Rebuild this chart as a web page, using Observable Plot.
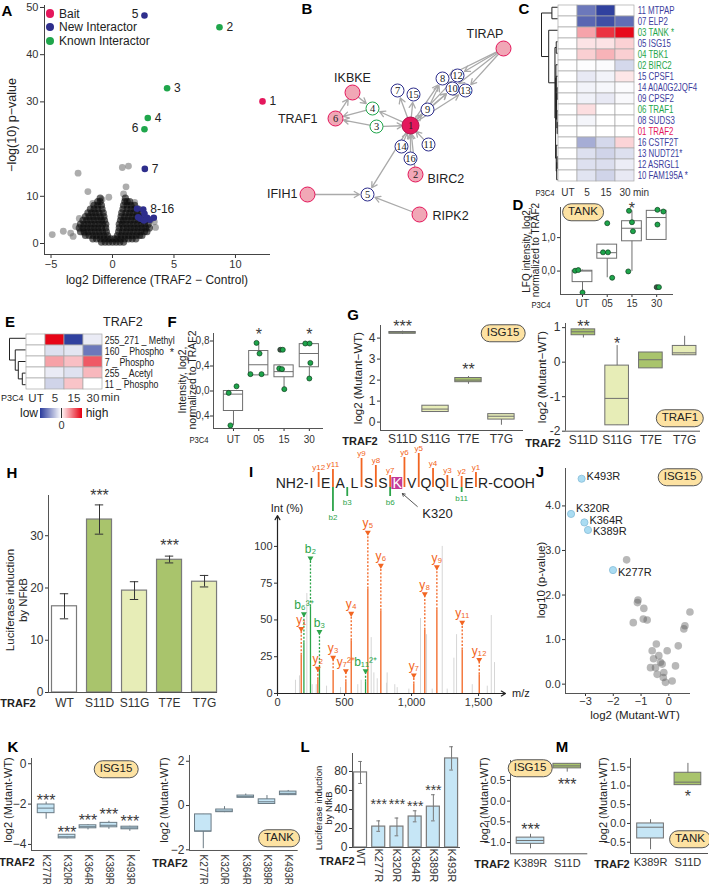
<!DOCTYPE html>
<html><head><meta charset="utf-8">
<script src="https://cdn.jsdelivr.net/npm/d3@7"></script>
<script src="https://cdn.jsdelivr.net/npm/@observablehq/plot@0.6"></script>
<style>
body{margin:0;background:#fff;}
#root{position:relative;width:709px;height:884px;overflow:hidden;background:#fff;font-family:'Liberation Sans',Arial,sans-serif;}
</style></head><body><div id="root"></div>
<script>
// ===================== DATA =====================
// --- A: volcano ---
const volcanoBgRows = [
  [0.3, [-0.9,-0.6,-0.3,0,0.3,0.6,0.9]],
  [1.0, [-1.6,-1.3,-1.0,-0.7,-0.4,-0.15,0.15,0.4,0.7,1.0,1.3,1.6,1.9]],
  [1.7, [-2.2,-1.9,-1.6,-1.3,-1.0,-0.7,-0.4,0.4,0.7,1.0,1.3,1.6,1.9,2.2,2.4]],
  [2.5, [-2.6,-2.3,-2.0,-1.7,-1.4,-1.1,-0.8,-0.5,0.5,0.8,1.1,1.4,1.7,2.0,2.3,2.6,2.8]],
  [3.3, [-2.7,-2.4,-2.1,-1.8,-1.5,-1.2,-0.9,-0.55,0.55,0.9,1.2,1.5,1.8,2.1,2.4,2.7,3.0]],
  [4.1, [-2.6,-2.3,-2.0,-1.7,-1.4,-1.1,-0.8,-0.55,0.55,0.8,1.1,1.4,1.7,2.0,2.3,2.6,2.9]],
  [4.9, [-2.4,-2.1,-1.8,-1.5,-1.2,-0.9,-0.65,0.65,0.9,1.2,1.5,1.8,2.1,2.4,2.7]],
  [5.7, [-2.2,-1.9,-1.6,-1.3,-1.0,-0.7,0.7,1.0,1.3,1.6,1.9,2.2,2.5]],
  [6.5, [-2.0,-1.7,-1.4,-1.1,-0.75,0.75,1.1,1.4,1.7,2.0,2.3]],
  [7.3, [-1.8,-1.5,-1.2,-0.85,0.85,1.2,1.5,1.8,2.1]],
  [8.1, [-1.5,-1.2,-0.9,0.9,1.2,1.5,1.8]],
  [8.9, [-1.2,-1.0,1.0,1.2,1.4]],
  [9.6, [-1.0,1.05]]
];
const volcanoOutliers = [[-4.9,1.9],[-4.0,2.6],[-3.2,1.5],[-2.3,2.2],[-2.7,5.3],[-2.0,11.0],[-2.8,14.9],[0.8,16.1],[1.3,16.4],[1.1,12.0],[0.9,10.5],[-0.3,9.8],[-0.85,9.3],[3.1,5.0],[3.4,4.6],[-3.0,3.6],[-3.4,2.2],[3.5,3.4],[-1.6,8.5],[1.8,8.7]];
const hitLabel = ["1","2","3","4","5","6","7","8-16","","","","","","","",""];
const hitX = [12.2,8.7,4.44,2.87,2.6,2.6,2.63,2.5,2.0,2.09,2.28,2.6,2.82,3.03,3.36,2.56];
const hitY = [30.1,45.8,32.9,26.6,48.3,24.2,15.8,7.2,7.35,5.57,5.23,6.29,5.44,5.02,5.44,4.87];
const hitKind = ["bait","known","known","known","new","known","new","new","new","new","new","new","new","new","new","new"];
const leftLabels = ["5","6"];

// --- B: network ---
const netIds  = ["1","2","3","4","5","6","7","8","9","10","11","12","13","14","15","16","TIRAP","IKBKE","IFIH1","RIPK2"];
const netX    = [410,415,376,372,367,335,397,442,427,452,428,457,465,401,413,410,503,352,307,419];
const netY    = [125,174,126,108,194,118,90,78,109,88,144,75,90,146,94,158,48,92,194,214];
const netKind = ["bait","hub","known","known","new","hub","new","new","new","new","new","new","new","new","new","new","hub","hub","hub","hub"];
const netEdges = [["1","7"],["1","15"],["1","9"],["1","8"],["1","12"],["1","10"],["1","13"],["9","8"],["9","10"],
  ["TIRAP","8"],["TIRAP","12"],["TIRAP","10"],["TIRAP","13"],["14","1"],["16","1"],["11","1"],["2","1"],
  ["3","1"],["1","4"],["3","6"],["4","6"],["IKBKE","4"],["6","IKBKE"],["1","5"],["IFIH1","5"],["RIPK2","5"]];
const netNames = {"TIRAP":"TIRAP","IKBKE":"IKBKE","6":"TRAF1","2":"BIRC2","IFIH1":"IFIH1","RIPK2":"RIPK2"};

// --- C: heatmap ---
const cProteins = ["11 MTPAP","07 ELP2","03 TANK *","05 ISG15","04 TBK1","02 BIRC2","15 CPSF1","14 A0A0G2JQF4","09 CPSF2","06 TRAF1","08 SUDS3","01 TRAF2","16 CSTF2T","13 NUDT21*","12 ASRGL1","10 FAM195A *"];
const cGroup = ["new","new","known","new","known","known","new","new","new","known","new","bait","new","new","new","new"];
const cTimes = ["UT","5","15","30"];
const cValues = [
  [0,-0.69,-0.97,0],[0,-0.78,-0.9,-0.74],[0,0.36,0.8,0.96],[0,0.11,0.11,0.18],
  [0,0.19,0.3,0.19],[0,-0.01,-0.02,-0.2],[0,-0.11,-0.06,0.1],[0,-0.06,-0.04,-0.02],
  [0,-0.07,-0.11,-0.03],[0,0.13,0,0],[0,-0.05,0,0],[0,0,0,0],
  [0,-0.42,-0.2,0.17],[0,-0.16,-0.22,-0.16],[0,-0.16,-0.17,-0.09],[0,-0.14,-0.22,-0.11]];
const cMerges = [[-1,-2,0.35],[-14,-15,0.03],[2,-16,0.05],[-13,3,0.08],[-8,-9,0.03],[-11,-12,0.02],[-10,6,0.04],[5,7,0.06],[-7,8,0.08],[-6,9,0.1],[10,4,0.12],[-4,-5,0.08],[12,11,0.16],[-3,13,0.55],[1,14,1.0]];

// --- D: TANK LFQ ---
const dCats = ["UT","05","15","30"];
const dStats = [[-0.64,-0.33,0.0,0.01,0.03],[-0.2,0.37,0.55,0.79,0.79],[-0.01,0.89,1.28,1.49,1.8],[0.93,0.93,1.6,1.8,1.83]];
const dPoints = [[0,0.01,-0.3,0],[0,0.03,-0.17,0],[0,-0.64,0,0],[1,1.43,0,0],[1,0.56,-0.17,0],[1,0.56,0.03,0],[1,-0.2,0.2,0],
  [2,1.8,-0.12,0],[2,1.46,0,0],[2,1.19,0.04,0],[2,-0.01,-0.15,0],[3,1.83,0.03,0],[3,1.78,0.27,0],[3,1.39,0.03,0],[3,-0.48,0,1],[3,-0.48,0.09,0]];
const dStars = [[2,1.99,"*"]];

// --- E: TRAF2 PTM heatmap ---
const eRows = ["255_271 _ Methyl","160 _ Phospho","7 _ Phospho","255 _ Acetyl","11 _ Phospho"];
const eValues = [[0,0.98,-0.97,-0.1],[0,-0.16,-0.13,-0.69],[0,0.37,0.25,0.65],[0,-0.1,-0.15,0.28],[0,-0.22,0.23,0]];
const eMerges = [[-4,-5,0.2],[-3,1,0.45],[-2,2,0.64],[-1,3,1.0]];

// --- F: TRAF2 phospho intensity ---
const fStats = [[-0.55,-0.32,-0.05,0.0,0.0],[0.25,0.25,0.42,0.64,0.77],[0.03,0.22,0.31,0.41,0.41],[0.2,0.38,0.6,0.75,0.75]];
const fPoints = [[0,0.075,0.12,0],[0,-0.03,-0.19,0],[0,-0.55,-0.12,0],[1,0.77,-0.09,0],[1,0.6,0.03,0],[1,0.27,-0.33,0],[1,0.27,0.11,0],
  [2,0.66,-0.15,1],[2,0.66,-0.05,0],[2,0.36,-0.19,0],[2,0.35,-0.08,0],[2,0.03,0.01,0],[3,0.76,-0.16,0],[3,0.76,0.01,0],[3,0.45,0.04,0],[3,0.2,0,0]];
const fStars = [[1,0.97,"*"],[3,0.97,"*"]];

// --- G ---
const gCats = ["S11D","S11G","T7E","T7G"];
const gIsgStats = [[4.17,4.21,4.25,4.29,4.33],[0.48,0.48,0.62,0.78,0.78],[1.8,1.9,2.0,2.1,2.17],[-0.15,0.12,0.28,0.38,0.38]];
const gIsgStars = [[0,4.75,"***"],[2,2.7,"**"]];
const gTrafStats = [[0.7,0.78,0.88,0.95,0.97],[-1.83,-1.83,-1.05,-0.1,0.48],[-0.18,-0.18,0.07,0.28,0.28],[0.2,0.2,0.27,0.47,0.75]];
const gTrafStars = [[0,1.15,"**"],[1,0.65,"*"]];

// --- H ---
const hCats = ["WT","S11D","S11G","T7E","T7G"];
const hMean = [16.5,33.1,19.5,25.4,21.2];
const hLo = [14.1,30.3,17.8,24.8,20.2];
const hHi = [18.9,35.9,21.2,26.1,22.4];
const hStars = [[1,38.4,"***"],[3,28.9,"***"]];

// --- I: spectrum ---
const residues = ["I","E","A","L","S","S","K","V","Q","Q","L","E","R"];
const seqPrefix = "NH2-", seqSuffix = "-COOH";
const seqHighlight = 6, seqHighlightLabel = "K320";
const yIonSite = [1,2,4,5,6,7,8,9,10,11,12];
const yIonName = ["y12","y11","y9","y8","y7","y6","y5","y4","y3","y2","y1"];
const yIonLen  = [6,9,20,13,3,21,25,10,3,2,6];
const bIonSite = [2,3,6,11];
const bIonName = ["b2","b3","b6","b11"];
const bIonLen  = [22,7,7,3];
const ionLabel = ["y₁","b₆³⁺","b₂","y₂","b₃","y₃","y₇²⁺","y₄","b₁₁²⁺","y₅","y₆","y₇","y₈","y₉","y₁₁","y₁₂"];
const ionType  = ["y","b","b","y","b","y","y","y","b","y","y","y","y","y","y","y"];
const ionMz    = [177,197,246,301,313,415,510,550,657,674,771,1017,1099,1189,1378,1505];
const ionInt   = [26,34.5,59,9.3,17.7,14.3,8,35.8,8,71,56,6.4,43,57,29.5,12.7];
const ionTop   = [44,54,92,17,42,24.5,15.4,54.4,15.4,109.5,87,12.5,67.6,86,48.3,23];
const grayMz  = [134,164,219,259,289,366,470,599,624,699,719,744,813,818,875,893,980,1067,1112,1154,1229,1266,1316,1336,1453,1565,1595,1619];
const grayInt = [9,12,68,6,6,5,4,6,9,38,14,10,7,14,6,4,3,51,40,3,100,3,24,40,6,5,53,21];

// --- J ---
const jHitLabel = ["K493R","K320R","K364R","K389R","K277R"];
const jHitX = [-3.14,-3.52,-3.04,-2.91,-2.01];
const jHitY = [4.61,3.82,3.63,3.46,2.56];
const jLabelDy = [-2,-5,-2,1,2];
const jOtherX = [-1.52,-1.11,-1.13,-0.9,-1.28,-0.92,-0.78,0.76,0.58,0.54,-0.6,-0.36,-0.3,-0.48,-0.18,-0.12,0.12,0.24,0.34,-0.66,-0.42,-0.06,-0.24,-0.55,-0.45,-0.2];
const jOtherY = [2.79,1.89,1.83,1.7,1.38,1.46,1.44,1.62,1.31,1.24,0.75,0.64,0.49,0.37,0.26,0.04,0.07,0.41,0.86,0.37,0.22,0.75,0.45,0.57,0.9,0.15];

// --- K ---
const kCats = ["K277R","K320R","K364R","K389R","K493R"];
const kIsgStats = [[-2.75,-2.45,-2.2,-2.02,-1.9],[-3.72,-3.7,-3.62,-3.52,-3.5],[-3.28,-3.2,-3.12,-3.05,-3.02],[-3.25,-3.15,-3.05,-2.93,-2.85],[-3.35,-3.25,-3.18,-3.12,-3.1]];
const kIsgStars = [[0,-1.62,"***"],[1,-3.21,"***"],[2,-2.61,"***"],[3,-2.32,"***"],[4,-2.66,"***"]];
const kTankStats = [[-1.95,-1.18,-1.15,-0.4,-0.4],[-0.32,-0.3,-0.25,-0.18,-0.05],[0.35,0.35,0.4,0.45,0.52],[0.05,0.07,0.17,0.28,0.45],[0.45,0.47,0.55,0.63,0.68]];

// --- L ---
const lCats = ["WT","K277R","K320R","K364R","K389R","K493R"];
const lMean = [79,22,22,32.6,43,93.7];
const lLo = [67.4,17,12.3,27,28,81.5];
const lHi = [90.5,28,31,38.6,55.5,106];
const lStars = [[1,49.5,"***"],[2,49.5,"***"],[3,48,"***"],[4,64.5,"***"]];

// --- M ---
const mCats = ["K389R","S11D"];
const mIsgStats = [[-1.15,-1.03,-0.95,-0.88,-0.8],[0.7,0.79,0.85,0.9,0.9]];
const mIsgStars = [[0,-0.58,"***"],[1,0.5,"***"]];
const mTankStats = [[-0.7,-0.4,-0.1,0.0,0.1],[1.02,1.02,1.1,1.35,1.6]];
const mTankStars = [[1,0.84,"*"]];

// ===================== HELPERS =====================
const root = document.getElementById("root");
const FONT = "'Liberation Sans', Arial, Helvetica, sans-serif";
const C_BAIT = "#e4175c", C_NEW = "#2e2e8c", C_KNOWN = "#1fa64b", C_NEWTXT = "#3d3d9e";
const G_DARK = "#a9c46c", G_LIGHT = "#e7edb7", BLUE_BOX = "#c6e6f6";
const HEAT_BLUE = "#2a3b9c", HEAT_RED = "#e60012";
const ORANGE = "#f26522", GREEN = "#2ca44a";
const minus = s => String(s).replace("-", "\u2212");
const fmtInt = d => minus(d);
const fmtComma1 = d => minus(d3.format(".1f")(d).replace(".", ","));
const fmtDot1 = d => minus(d3.format(".1f")(d));
const SVGNS = "http://www.w3.org/2000/svg";

function plot(o, left, top, fs = 11) {
  const svg = Plot.plot({...o, style: {fontFamily: FONT, fontSize: fs + "px", color: "#333", background: "transparent", overflow: "visible", maxWidth: "none"}});
  svg.style.position = "absolute"; svg.style.left = left + "px"; svg.style.top = top + "px";
  root.appendChild(svg);
  return svg;
}
function txt(s, x, y, o = {}) {
  const d = document.createElement("div");
  d.textContent = s;
  const a = o.anchor || "middle";
  const tx = a === "start" ? "0%" : a === "end" ? "-100%" : "-50%";
  Object.assign(d.style, {position: "absolute", left: x + "px", top: y + "px", whiteSpace: "nowrap", lineHeight: "1",
    fontFamily: FONT, fontSize: (o.size || 11) + "px", color: o.color || "#222", fontWeight: o.bold ? "bold" : "normal",
    transform: `translate(${tx},-50%)` + (o.rotate ? ` rotate(${o.rotate}deg)` : "") + (o.sx ? ` scaleX(${o.sx})` : "")});
  root.appendChild(d);
  return d;
}
function badge(s, x, y) {
  const d = txt(s, x, y, {size: 11.5, color: "#222"});
  Object.assign(d.style, {background: "#fde2a2", border: "1px solid #555", borderRadius: "9px", padding: "2px 5px"});
}
function letter(s, x, y) { txt(s, x, y, {size: 15, bold: true, color: "#000"}); }
function safe(fn) { try { fn(); } catch (e) { console.error(e); } }
// horizontally condense the text marks of a plot around x0 (the labels use a narrow face in the original)
function condense(svg, x0, k) {
  svg.querySelectorAll('g[aria-label="text"]').forEach(g => {
    const w = document.createElementNS(SVGNS, "g");
    w.setAttribute("transform", `translate(${x0},0) scale(${k},1) translate(${-x0},0)`);
    g.parentNode.insertBefore(w, g); w.appendChild(g);
  });
}
function xTickFont(svg, size) {
  svg.querySelectorAll('g[aria-label="x-axis tick label"]').forEach(g => { g.style.fontSize = size + "px"; g.setAttribute("font-size", size); });
}

function dendroSegments(merges) {
  const nodes = [], segs = [];
  const get = k => k < 0 ? {y: -k, h: 0} : nodes[k - 1];
  for (const [a, b, h] of merges) {
    const A = get(a), B = get(b);
    segs.push({x1: A.h, y1: A.y, x2: h, y2: A.y});
    segs.push({x1: B.h, y1: B.y, x2: h, y2: B.y});
    segs.push({x1: h, y1: A.y, x2: h, y2: B.y});
    nodes.push({y: (A.y + B.y) / 2, h});
  }
  return segs;
}

function boxChart(c) {
  const [fx0, fy0, fx1, fy1] = c.frame;
  const [ml, mt, mr, mb] = c.margins;
  const hw = c.hw, st = c.stroke || "#6f6f6f";
  const boxes = c.stats.map((s, i) => ({i, lo: s[0], q1: s[1], med: s[2], q3: s[3], hi: s[4], fill: c.fills[i]}));
  const marks = [
    Plot.ruleX(boxes, {x: "i", y1: "lo", y2: "hi", stroke: st}),
    Plot.rectY(boxes, {x1: d => d.i - hw, x2: d => d.i + hw, y1: "q1", y2: "q3", fill: "fill", stroke: st}),
    Plot.ruleY(boxes, {x1: d => d.i - hw, x2: d => d.i + hw, y: "med", stroke: st})
  ];
  if (c.points) {
    const pts = c.points.map(p => ({x: p[0] + p[2], v: p[1], fill: p[3] ? "#4a4a4a" : "#1ea54b"}));
    marks.push(Plot.dot(pts, {x: "x", y: "v", r: 2.5, fill: "fill", stroke: "#0d3d1d", strokeWidth: 0.7}));
  }
  if (c.stars) {
    const s = c.stars.map(t => ({i: t[0], v: t[1], s: t[2]}));
    marks.push(Plot.text(s, {x: "i", y: "v", text: "s", fontSize: c.starSize || 16, fill: "#3a3a3a", dy: 4.5}));
  }
  marks.push(Plot.ruleX([c.xDomain[0]], {stroke: "#555"}), Plot.ruleY([c.yDomain[0]], {stroke: "#555"}));
  const svg = plot({
    width: fx1 - fx0 + ml + mr, height: fy1 - fy0 + mt + mb,
    marginLeft: ml, marginTop: mt, marginRight: mr, marginBottom: mb,
    x: {domain: c.xDomain, ticks: c.cats.map((_, i) => i), tickFormat: i => c.cats[i], tickSize: c.xTickSize || 0,
        tickPadding: c.xTickPadding ?? 4, tickRotate: c.rotate || 0, label: null},
    y: {domain: c.yDomain, ticks: c.yTicks, tickFormat: c.yFmt, tickSize: 3, tickPadding: c.yTickPadding ?? 2, label: null},
    color: {type: "identity"},
    marks
  }, fx0 - ml, fy0 - mt, c.fontSize || 11);
  if (c.xFont) xTickFont(svg, c.xFont);
  return svg;
}

function barChart(c) {
  const [fx0, fy0, fx1, fy1] = c.frame;
  const [ml, mt, mr, mb] = c.margins;
  const hw = c.hw, cap = c.cap;
  const bars = c.cats.map((_, i) => ({i, v: c.mean[i], lo: c.lo[i], hi: c.hi[i], fill: c.fills[i]}));
  const stars = c.stars.map(t => ({i: t[0], v: t[1], s: t[2]}));
  const svg = plot({
    width: fx1 - fx0 + ml + mr, height: fy1 - fy0 + mt + mb,
    marginLeft: ml, marginTop: mt, marginRight: mr, marginBottom: mb,
    x: {domain: c.xDomain, ticks: c.cats.map((_, i) => i), tickFormat: i => c.cats[i], tickSize: 0,
        tickPadding: c.xTickPadding ?? 5, tickRotate: c.rotate || 0, label: null},
    y: {domain: c.yDomain, ticks: c.yTicks, tickSize: 3, tickPadding: 2, label: null},
    color: {type: "identity"},
    marks: [
      Plot.rectY(bars, {x1: d => d.i - hw, x2: d => d.i + hw, y1: 0, y2: "v", fill: "fill", stroke: "#7a7a7a", strokeWidth: 1.2}),
      Plot.ruleX(bars, {x: "i", y1: "lo", y2: "hi", stroke: c.errColor}),
      Plot.ruleY(bars, {x1: d => d.i - cap, x2: d => d.i + cap, y: "lo", stroke: c.errColor}),
      Plot.ruleY(bars, {x1: d => d.i - cap, x2: d => d.i + cap, y: "hi", stroke: c.errColor}),
      Plot.text(stars, {x: "i", y: "v", text: "s", fontSize: c.starSize || 16, fill: "#3a3a3a", dy: 4.5}),
      Plot.ruleX([c.xDomain[0]], {stroke: "#555"}),
      Plot.ruleY([0], {stroke: "#555"})
    ]
  }, fx0 - ml, fy0 - mt, c.fontSize || 11);
  if (c.xFont) xTickFont(svg, c.xFont);
  return svg;
}

const heatColor = {type: "linear", domain: [-1, 0, 1], range: [HEAT_BLUE, "#ffffff", HEAT_RED]};

// ===================== PANEL A =====================
safe(() => {
  const bg = [];
  for (const [y, xs] of volcanoBgRows) for (const x of xs) bg.push({x, y});
  const out = volcanoOutliers.map(([x, y]) => ({x, y}));
  const hits = hitX.map((x, i) => ({x, y: hitY[i], label: hitLabel[i], kind: hitKind[i]}));
  const kindColor = {bait: C_BAIT, new: C_NEW, known: C_KNOWN};
  const lab = hits.filter(h => h.label);
  plot({
    width: 278, height: 290, marginLeft: 44, marginTop: 5, marginRight: 8, marginBottom: 36,
    x: {domain: [-5.53, 12.85], ticks: [-5, 0, 5, 10], tickFormat: fmtInt, tickSize: 4, tickPadding: 2, label: null},
    y: {domain: [-2.33, 50.42], ticks: [0, 10, 20, 30, 40, 50], tickSize: 4, tickPadding: 2, label: null},
    color: {type: "identity"},
    marks: [
      Plot.dot(out, {x: "x", y: "y", r: 3.4, fill: "#6a6a6a", fillOpacity: 0.55}),
      Plot.dot(bg, {x: "x", y: "y", r: 3.6, fill: "#0d0d0d", fillOpacity: 0.62}),
      Plot.dot(hits, {x: "x", y: "y", r: 3.3, fill: d => kindColor[d.kind]}),
      Plot.text(lab.filter(d => !leftLabels.includes(d.label)), {x: "x", y: "y", text: "label", textAnchor: "start", dx: 7, fontSize: 12, fill: "#222"}),
      Plot.text(lab.filter(d => leftLabels.includes(d.label)), {x: "x", y: "y", text: "label", textAnchor: "end", dx: -6, dy: -1, fontSize: 12, fill: "#222"}),
      Plot.ruleX([-5.53], {stroke: "#444"}),
      Plot.ruleY([-2.33], {stroke: "#444"})
    ]
  }, 0, 0, 11);
  txt("\u2212log(10) p\u2212value", 12, 125, {size: 12.5, rotate: -90});
  txt("log2 Difference (TRAF2 \u2212 Control)", 157, 280, {size: 12});
  const legItems = [["Bait", C_BAIT], ["New Interactor", C_NEW], ["Known Interactor", C_KNOWN]];
  legItems.forEach(([t, col], i) => {
    const y = 13.5 + i * 13.7;
    const d = document.createElement("div");
    Object.assign(d.style, {position: "absolute", left: "45.7px", top: (y - 4.3) + "px", width: "8.6px", height: "8.6px", borderRadius: "50%", background: col});
    root.appendChild(d);
    txt(t, 59, y, {anchor: "start", size: 12});
  });
  letter("A", 7, 10);
});

// ===================== PANEL B =====================
safe(() => {
  const nodes = netIds.map((id, i) => ({id, x: netX[i], y: netY[i], kind: netKind[i]}));
  const byId = Object.fromEntries(nodes.map(n => [n.id, n]));
  const edges = netEdges.map(([a, b]) => ({x1: byId[a].x, y1: byId[a].y, x2: byId[b].x, y2: byId[b].y}));
  const numbered = nodes.filter(n => /^\d+$/.test(n.id));
  const labelOffsets = {"TIRAP": [-37, -15, "start"], "IKBKE": [0, -15, "middle"], "6": [-18, 0, "end"], "2": [12, 4, "start"], "IFIH1": [-10, -1, "end"], "RIPK2": [13, 1, "start"]};
  const labels = Object.keys(netNames).map(id => ({x: byId[id].x, y: byId[id].y, t: netNames[id], dx: labelOffsets[id][0], dy: labelOffsets[id][1], a: labelOffsets[id][2]}));
  const labelMarks = ["start", "middle", "end"].map(a => {
    const L = labels.filter(l => l.a === a);
    return Plot.text(L, {x: d => d.x + d.dx, y: d => d.y + d.dy, text: "t", textAnchor: a, fontSize: 12.5, fill: "#222"});
  });
  plot({
    width: 265, height: 215, marginLeft: 0, marginTop: 0, marginRight: 0, marginBottom: 0,
    x: {domain: [255, 520], axis: null},
    y: {domain: [15, 230], reverse: true, axis: null},
    marks: [
      Plot.arrow(edges, {x1: "x1", y1: "y1", x2: "x2", y2: "y2", stroke: "#aaaaaa", strokeWidth: 1.3, headLength: 7, insetStart: 7, insetEnd: 8}),
      Plot.dot(nodes.filter(n => n.kind === "hub"), {x: "x", y: "y", r: 7.5, fill: "#f1a7b6", stroke: C_BAIT, strokeWidth: 1}),
      Plot.dot(nodes.filter(n => n.kind === "bait"), {x: "x", y: "y", r: 8.5, fill: C_BAIT, stroke: "#b0104a", strokeWidth: 1}),
      Plot.dot(nodes.filter(n => n.kind === "new"), {x: "x", y: "y", r: 6.5, fill: "#fff", stroke: C_NEW, strokeWidth: 1}),
      Plot.dot(nodes.filter(n => n.kind === "known"), {x: "x", y: "y", r: 6.5, fill: "#fff", stroke: C_KNOWN, strokeWidth: 1}),
      Plot.text(numbered, {x: "x", y: "y", text: "id", fontFamily: "'Liberation Serif','DejaVu Serif',serif", fontSize: 10.5, fill: "#222"}),
      ...labelMarks
    ]
  }, 255, 15, 11);
  letter("B", 307, 8);
});

// ===================== PANEL C =====================
safe(() => {
  const table = [];
  cProteins.forEach((p, r) => cTimes.forEach((t, j) => table.push({p, t, v: cValues[r][j]})));
  const grpColor = {new: C_NEWTXT, known: C_KNOWN, bait: C_BAIT};
  const labelMarks = Object.keys(grpColor).map(g =>
    Plot.text(cProteins.filter((_, i) => cGroup[i] === g), {y: d => d, frameAnchor: "right", textAnchor: "start", dx: 3, fontSize: 10.5, fill: grpColor[g]}));
  const svg = plot({
    width: 152, height: 199, marginLeft: 0, marginTop: 1, marginRight: 74, marginBottom: 14,
    x: {type: "band", domain: cTimes, padding: 0, tickSize: 0, tickPadding: 3, label: null},
    y: {type: "band", domain: cProteins, padding: 0, axis: null},
    color: heatColor,
    marks: [
      Plot.cell(table, {x: "t", y: "p", fill: "v", stroke: "#a8a8a8", strokeWidth: 0.7}),
      ...labelMarks
    ]
  }, 557, 0, 10);
  condense(svg, 78, 0.75);
  plot({
    width: 16, height: 199, marginLeft: 0, marginTop: 1, marginRight: 0, marginBottom: 14,
    x: {domain: [1, 0], axis: null},
    y: {domain: [16.5, 0.5], axis: null},
    marks: [Plot.link(dendroSegments(cMerges), {x1: "x1", y1: "y1", x2: "x2", y2: "y2", stroke: "#222", strokeWidth: 1})]
  }, 541, 0);
  txt("P3C4", 545, 193, {size: 9, sx: 0.85});
  txt("min", 633, 193, {anchor: "start", size: 10, color: "#333"});
  letter("C", 524, 8);
});

// ===================== PANEL D =====================
safe(() => {
  boxChart({frame: [560, 207, 673, 294], margins: [50, 3, 6, 16], xDomain: [-0.89, 3.68], yDomain: [-0.70, 1.90],
    cats: dCats, stats: dStats, fills: dCats.map(() => "#fff"), hw: 0.4, yTicks: [0, 1], yFmt: fmtComma1,
    points: dPoints, stars: dStars, xTickSize: 3, xTickPadding: 2, fontSize: 10});
  txt("LFQ intensity, log2,", 527, 250, {size: 10, rotate: -90});
  txt("normalized to TRAF2", 536, 250, {size: 10, rotate: -90});
  txt("P3C4", 541, 305, {size: 9, sx: 0.85});
  badge("TANK", 583, 212);
  letter("D", 518, 204);
});

// ===================== PANEL E =====================
safe(() => {
  const table = [];
  eRows.forEach((p, r) => cTimes.forEach((t, j) => table.push({p, t, v: eValues[r][j]})));
  const svg = plot({
    width: 152, height: 73, marginLeft: 0, marginTop: 1, marginRight: 75, marginBottom: 14,
    x: {type: "band", domain: cTimes, padding: 0, tickSize: 0, tickPadding: 3, label: null},
    y: {type: "band", domain: eRows, padding: 0, axis: null},
    color: heatColor,
    marks: [
      Plot.cell(table, {x: "t", y: "p", fill: "v", stroke: "#a8a8a8", strokeWidth: 0.7}),
      Plot.text(eRows, {y: d => d, frameAnchor: "right", textAnchor: "start", dx: 3, fontSize: 11, fill: "#222"})
    ]
  }, 25, 331, 11.5);
  condense(svg, 77, 0.8);
  plot({
    width: 16, height: 73, marginLeft: 0, marginTop: 1, marginRight: 0, marginBottom: 14,
    x: {domain: [1, 0], axis: null},
    y: {domain: [5.5, 0.5], axis: null},
    marks: [Plot.link(dendroSegments(eMerges), {x1: "x1", y1: "y1", x2: "x2", y2: "y2", stroke: "#222", strokeWidth: 1})]
  }, 9, 331);
  txt("TRAF2", 103, 322, {anchor: "start", size: 12.5});
  txt("*", 172, 352, {size: 11});
  txt("P3C4", 1, 398, {anchor: "start", size: 9});
  txt("min", 101, 398, {anchor: "start", size: 11.5, color: "#333"});
  const leg = Plot.legend({color: heatColor, legend: "ramp", width: 48, height: 26, marginTop: 2, marginBottom: 14,
    marginLeft: 3, marginRight: 3, ticks: [0], tickSize: 0, tickFormat: d => String(d), label: null,
    style: {fontFamily: FONT, fontSize: "11px", color: "#333", background: "transparent", overflow: "visible"}});
  Object.assign(leg.style, {position: "absolute", left: "37px", top: "406px"});
  root.appendChild(leg);
  txt("low", 29, 413, {size: 12});
  txt("high", 97, 413, {size: 12});
  letter("E", 10, 321);
});

// ===================== PANEL F =====================
safe(() => {
  boxChart({frame: [213, 333, 323, 428], margins: [45, 3, 6, 16], xDomain: [-0.79, 3.56], yDomain: [-0.6, 0.92],
    cats: dCats, stats: fStats, fills: dCats.map(() => "#fff"), hw: 0.38, yTicks: [-0.4, 0, 0.4, 0.8], yFmt: fmtComma1,
    points: fPoints, stars: fStars, xTickSize: 3, xTickPadding: 4, yTickPadding: 1, fontSize: 10});
  txt("Intensity, log2,", 182, 380, {size: 10.5, rotate: -90});
  txt("normalized to TRAF2", 192, 380, {size: 10.5, rotate: -90});
  txt("P3C4", 199, 440, {size: 9, sx: 0.85});
  letter("F", 172, 321);
});

// ===================== PANEL G =====================
safe(() => {
  const gf = [G_DARK, G_LIGHT, G_DARK, G_LIGHT];
  boxChart({frame: [380, 325, 523, 430], margins: [30, 3, 6, 16], xDomain: [-0.67, 3.67], yDomain: [-0.4, 4.6],
    cats: gCats, stats: gIsgStats, fills: gf, hw: 0.4, yTicks: [0, 1, 2, 3, 4], yFmt: fmtInt, stars: gIsgStars, fontSize: 12});
  boxChart({frame: [565, 323, 700, 430.7], margins: [30, 3, 6, 16], xDomain: [-0.53, 3.47], yDomain: [-2, 1.12],
    cats: gCats, stats: gTrafStats, fills: gf, hw: 0.35, yTicks: [-2, -1, 0, 1], yFmt: d => String(d), stars: gTrafStars, fontSize: 12});
  txt("log2 (Mutant\u2212WT)", 359, 378, {size: 11.5, rotate: -90});
  txt("log2 (Mutant\u2212WT)", 543, 377, {size: 11.5, rotate: -90});
  txt("TRAF2", 360, 441, {size: 11, bold: true});
  txt("TRAF2", 543, 443, {size: 11, bold: true});
  badge("ISG15", 503, 333);
  badge("TRAF1", 680, 418);
  letter("G", 353, 314);
});

// ===================== PANEL H =====================
safe(() => {
  barChart({frame: [48, 495, 217, 692], margins: [45, 3, 5, 20], xDomain: [-0.457, 4.37], yDomain: [0, 37.7],
    cats: hCats, mean: hMean, lo: hLo, hi: hHi, fills: ["#fff", G_DARK, G_LIGHT, G_DARK, G_LIGHT],
    hw: 0.357, cap: 0.12, yTicks: [0, 10, 20, 30], stars: hStars, errColor: "#333", xTickPadding: 6, fontSize: 12});
  txt("Luciferase induction", 11, 600, {size: 11.5, rotate: -90});
  txt("by NFkB", 24, 600, {size: 11.5, rotate: -90});
  txt("TRAF2", 18, 703, {size: 11, bold: true});
  letter("H", 12, 472);
});

// ===================== PANEL I =====================
safe(() => {
  const res = residues.map((r, i) => ({r, i, fill: i === seqHighlight ? "#fff" : "#222"}));
  const yI = yIonSite.map((s, k) => ({x: s - 0.5, h: yIonLen[k], n: yIonName[k]}));
  const bI = bIonSite.map((s, k) => ({x: s - 0.5, h: bIonLen[k], n: bIonName[k]}));
  plot({
    width: 280, height: 90, marginLeft: 0, marginTop: 0, marginRight: 0, marginBottom: 0,
    x: {domain: [-3.566, 16.014], axis: null},
    y: {domain: [-47, 43], axis: null},
    color: {type: "identity"},
    marks: [
      Plot.ruleX(yI, {x: "x", y1: -4, y2: d => 5 + d.h, stroke: ORANGE, strokeWidth: 1.8}),
      Plot.ruleX(bI, {x: "x", y1: -4, y2: d => -6 - d.h, stroke: GREEN, strokeWidth: 1.8}),
      Plot.text(yI, {x: "x", y: d => 5 + d.h, dy: -5, text: "n", fill: ORANGE, fontSize: 8}),
      Plot.text(bI, {x: "x", y: d => -6 - d.h, dy: 6, text: "n", fill: GREEN, fontSize: 8}),
      Plot.rect([seqHighlight], {x1: d => d - 0.38, x2: d => d + 0.38, y1: -6, y2: 6, fill: "#c43a96"}),
      Plot.text(res, {x: "i", y: 0, text: "r", fill: "fill", fontSize: 14}),
      Plot.text([seqPrefix], {x: -0.5, y: 0, text: d => d, textAnchor: "end", dx: 4, fontSize: 14, fill: "#222"}),
      Plot.text([seqSuffix], {x: residues.length - 0.5, y: 0, text: d => d, textAnchor: "start", dx: -2, fontSize: 14, fill: "#222"}),
      Plot.arrow([seqHighlight], {x1: d => d + 1.4, y1: -23, x2: d => d + 0.35, y2: -10, stroke: "#444", strokeWidth: 0.9, headLength: 5}),
      Plot.text([seqHighlightLabel], {x: seqHighlight + 1.75, y: -30, text: d => d, textAnchor: "start", fontSize: 13, fill: "#222"})
    ]
  }, 260, 440, 11);
  const ions = ionMz.map((mz, i) => ({mz, int: ionInt[i], top: ionTop[i], label: ionLabel[i], color: ionType[i] === "y" ? ORANGE : GREEN}));
  const gray = grayMz.map((mz, i) => ({mz, int: grayInt[i]}));
  const xMax = 1701, yMax = 121;
  plot({
    width: 263, height: 200, marginLeft: 30, marginTop: 0, marginRight: 5, marginBottom: 22,
    x: {domain: [0, xMax], ticks: [0, 500, 1000, 1500], tickFormat: d3.format(","), tickSize: 3, tickPadding: 2, label: null},
    y: {domain: [0, yMax], ticks: [0, 25, 50, 75, 100], tickSize: 3, tickPadding: 2, label: null},
    color: {type: "identity"},
    marks: [
      Plot.ruleX(gray, {x: "mz", y1: 0, y2: "int", stroke: "#d6d6d6", strokeWidth: 1}),
      Plot.ruleX(ions, {x: "mz", y1: 0, y2: "int", stroke: "color", strokeWidth: 1.3}),
      Plot.ruleX(ions, {x: "mz", y1: "int", y2: "top", stroke: "color", strokeWidth: 1.3, strokeDasharray: "2,1.6"}),
      Plot.dot(ions, {x: "mz", y: "top", symbol: "triangle", r: 2.2, fill: "color", rotate: 180}),
      Plot.text(ions, {x: "mz", y: "top", text: "label", fill: "color", dy: -9, fontSize: 12}),
      Plot.arrow([0], {x1: 0, y1: 0, x2: 0, y2: yMax, stroke: "#222", strokeWidth: 1.2, headLength: 6}),
      Plot.arrow([0], {x1: 0, y1: 0, x2: xMax, y2: 0, stroke: "#222", strokeWidth: 1.2, headLength: 6})
    ]
  }, 247, 515, 11);
  txt("Int (%)", 287, 508, {size: 11});
  txt("m/z", 512, 693, {anchor: "start", size: 11});
  letter("I", 251, 471);
});

// ===================== PANEL J =====================
safe(() => {
  const hits = jHitX.map((x, i) => ({x, y: jHitY[i], t: jHitLabel[i], dy: jLabelDy[i]}));
  const others = jOtherX.map((x, i) => ({x, y: jOtherY[i]}));
  const hitLabelMarks = [...new Set(jLabelDy)].map(dy =>
    Plot.text(hits.filter(h => h.dy === dy), {x: "x", y: "y", text: "t", textAnchor: "start", dx: 5, dy, fontSize: 11, fill: "#222"}));
  plot({
    width: 175, height: 257, marginLeft: 40, marginTop: 2, marginRight: 10, marginBottom: 30,
    x: {domain: [-3.72, 0.78], ticks: [-3, -2, -1, 0], tickFormat: fmtInt, tickSize: 3, tickPadding: 1, label: null},
    y: {domain: [-0.21, 4.84], ticks: [0, 1, 2, 3, 4], tickSize: 3, tickPadding: 2, label: null},
    marks: [
      Plot.dot(others, {x: "x", y: "y", r: 3.8, fill: "#555", fillOpacity: 0.42}),
      Plot.dot(hits, {x: "x", y: "y", r: 3.6, fill: "#aadcf2", stroke: "#86bcd8", strokeWidth: 0.8}),
      ...hitLabelMarks,
      Plot.ruleX([-3.72], {stroke: "#555"}),
      Plot.ruleY([-0.21], {stroke: "#555"})
    ]
  }, 525, 466, 11);
  txt("log10 (p-value)", 542, 580, {size: 11.5, rotate: -90});
  txt("log2 (Mutant-WT)", 635, 716, {size: 11.5});
  badge("ISG15", 680, 477);
  letter("J", 540, 471);
});

// ===================== PANEL K =====================
safe(() => {
  boxChart({frame: [31, 758, 140, 850], margins: [28, 3, 4, 36], xDomain: [-0.70, 4.51], yDomain: [-4.3, 0.26],
    cats: kCats, stats: kIsgStats, fills: kCats.map(() => BLUE_BOX), hw: 0.4, yTicks: [-4, -2, 0], yFmt: fmtInt,
    stars: kIsgStars, rotate: 90, xTickPadding: 4, fontSize: 12, xFont: 10, stroke: "#6a7a84"});
  boxChart({frame: [189.3, 755, 298, 850], margins: [28, 3, 4, 36], xDomain: [-0.65, 4.47], yDomain: [-2.03, 2.26],
    cats: kCats, stats: kTankStats, fills: kCats.map(() => BLUE_BOX), hw: 0.39, yTicks: [-2, 0, 2], yFmt: fmtInt,
    rotate: 90, xTickPadding: 4, fontSize: 12, xFont: 10, stroke: "#6a7a84"});
  txt("log2 (Mutant-WT)", 8, 800, {size: 11, rotate: -90});
  txt("log2 (Mutant-WT)", 164, 800, {size: 11, rotate: -90});
  txt("TRAF2", 17, 862, {size: 11, bold: true});
  txt("TRAF2", 170, 863, {size: 11, bold: true});
  badge("ISG15", 116, 769);
  badge("TANK", 279, 838);
  letter("K", 13, 746);
});

// ===================== PANEL L =====================
safe(() => {
  barChart({frame: [352, 753, 460, 847], margins: [40, 3, 4, 36], xDomain: [-0.44, 5.49], yDomain: [0, 98.9],
    cats: lCats, mean: lMean, lo: lLo, hi: lHi, fills: lCats.map((c, i) => i === 0 ? "#fff" : BLUE_BOX),
    hw: 0.357, cap: 0.1, yTicks: [0, 20, 40, 60, 80], stars: lStars, starSize: 14, errColor: "#777", rotate: 90,
    xTickPadding: 1, fontSize: 12, xFont: 11});
  txt("Luciferase induction", 319, 808, {size: 9.5, rotate: -90});
  txt("by NfkB", 329, 808, {size: 9.5, rotate: -90});
  txt("TRAF2", 337, 861, {size: 11, bold: true});
  letter("L", 305, 746);
});

// ===================== PANEL M =====================
safe(() => {
  boxChart({frame: [510, 760, 587.3, 853.3], margins: [32, 3, 4, 18], xDomain: [-0.545, 1.56], yDomain: [-1.27, 0.98],
    cats: mCats, stats: mIsgStats, fills: [BLUE_BOX, G_DARK], hw: 0.376, yTicks: [-1, -0.5, 0, 0.5], yFmt: fmtDot1,
    stars: mIsgStars, xTickPadding: 5, fontSize: 11});
  boxChart({frame: [630, 758.3, 708, 853.3], margins: [32, 3, 1, 18], xDomain: [-0.536, 1.55], yDomain: [-0.8, 1.73],
    cats: mCats, stats: mTankStats, fills: [BLUE_BOX, G_DARK], hw: 0.357, yTicks: [-0.5, 0, 0.5, 1, 1.5], yFmt: fmtDot1,
    stars: mTankStars, xTickPadding: 5, fontSize: 11});
  txt("log2 (Mutant-WT)", 484, 800, {size: 11, rotate: -90});
  txt("log2 (Mutant-WT)", 603, 800, {size: 11, rotate: -90});
  txt("TRAF2", 492, 864, {size: 11, bold: true});
  txt("TRAF2", 612, 864, {size: 11, bold: true});
  badge("ISG15", 530, 768);
  badge("TANK", 690, 839);
  letter("M", 562, 746);
});
</script></body></html>
